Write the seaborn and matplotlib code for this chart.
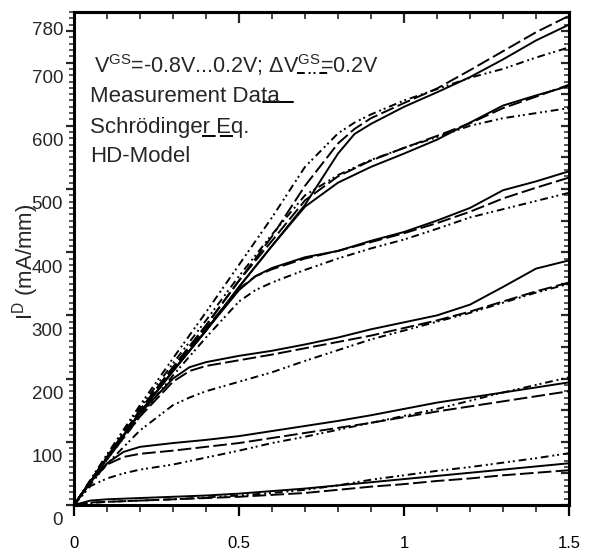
import numpy as np
import pandas as pd
import matplotlib
matplotlib.use('Agg')
import matplotlib.pyplot as plt
import matplotlib.transforms as mtransforms
from matplotlib.ticker import MultipleLocator, FixedLocator
import seaborn as sns

# drain current curves I_D (mA/mm) vs V_DS (V)
models = ["Measurement Data", "Schrödinger Eq.", "HD-Model"]

# VGS = -0.8 V
v_m08 = [0, 0.05, 0.1, 0.2, 0.3, 0.4, 0.5, 0.6, 0.7, 0.8, 0.9, 1.0, 1.1, 1.2, 1.3, 1.4, 1.5]
meas_m08 = [0, 7, 9, 11, 13, 15, 18, 22, 26, 31, 36, 41, 46, 51, 56, 61, 66]
schr_m08 = [0, 4, 5, 7, 9, 11, 13, 16, 19, 24, 29, 33, 38, 42, 47, 51, 55]
hd_m08 = [0, 3, 5, 7, 9, 12, 15, 19, 24, 31, 40, 47, 54, 60, 67, 74, 82]

# VGS = -0.6 V
v_m06 = [0, 0.05, 0.1, 0.15, 0.2, 0.3, 0.4, 0.5, 0.6, 0.7, 0.8, 0.9, 1.0, 1.1, 1.2, 1.3, 1.4, 1.5]
meas_m06 = [0, 36, 66, 84, 92, 98, 103, 109, 117, 125, 133, 142, 152, 162, 170, 178, 186, 194]
schr_m06 = [0, 36, 64, 76, 81, 86, 92, 98, 106, 114, 122, 130, 139, 148, 156, 164, 172, 180]
hd_m06 = [0, 30, 42, 50, 56, 64, 75, 86, 98, 108, 119, 130, 141, 152, 165, 178, 190, 202]

# VGS = -0.4 V
v_m04 = [0, 0.1, 0.2, 0.3, 0.35, 0.4, 0.5, 0.6, 0.7, 0.8, 0.9, 1.0, 1.1, 1.2, 1.3, 1.4, 1.5]
meas_m04 = [0, 74, 145, 200, 218, 226, 236, 244, 254, 265, 278, 289, 300, 317, 345, 374, 387]
schr_m04 = [0, 72, 140, 195, 212, 220, 229, 238, 248, 258, 268, 280, 292, 306, 322, 338, 352]
hd_m04 = [0, 65, 118, 158, 170, 180, 195, 210, 228, 245, 262, 276, 290, 304, 320, 336, 350]

# VGS = -0.2 V
v_m02 = [0, 0.1, 0.2, 0.3, 0.4, 0.5, 0.55, 0.6, 0.7, 0.8, 0.9, 1.0, 1.1, 1.2, 1.3, 1.4, 1.5]
meas_m02 = [0, 74, 146, 212, 276, 340, 362, 375, 392, 402, 418, 432, 450, 470, 498, 512, 528]
schr_m02 = [0, 75, 148, 215, 280, 342, 362, 373, 390, 402, 416, 430, 446, 464, 485, 502, 518]
hd_m02 = [0, 72, 140, 205, 265, 322, 340, 352, 372, 390, 406, 420, 437, 455, 468, 481, 494]

# VGS = 0.0 V
v_p00 = [0, 0.1, 0.2, 0.3, 0.4, 0.5, 0.6, 0.7, 0.8, 0.9, 1.0, 1.1, 1.2, 1.3, 1.4, 1.5]
meas_p00 = [0, 74, 146, 212, 276, 345, 410, 472, 510, 535, 556, 578, 605, 632, 648, 663]
schr_p00 = [0, 76, 150, 218, 284, 355, 418, 482, 520, 545, 565, 584, 604, 628, 646, 665]
hd_p00 = [0, 78, 154, 224, 292, 362, 428, 490, 522, 546, 565, 582, 600, 612, 620, 628]

# VGS = 0.2 V
v_p02 = [0, 0.1, 0.2, 0.3, 0.4, 0.5, 0.6, 0.7, 0.8, 0.85, 0.9, 1.0, 1.1, 1.2, 1.3, 1.4, 1.5]
meas_p02 = [0, 74, 146, 212, 276, 345, 410, 475, 556, 587, 603, 630, 653, 677, 705, 735, 760]
schr_p02 = [0, 76, 150, 218, 284, 355, 425, 505, 572, 595, 612, 636, 659, 688, 718, 748, 774]
hd_p02 = [0, 80, 158, 232, 305, 380, 455, 535, 588, 605, 618, 640, 658, 676, 690, 708, 724]

vgs_levels = [-0.8, -0.6, -0.4, -0.2, 0.0, 0.2]
groups = [
    (v_m08, [meas_m08, schr_m08, hd_m08]),
    (v_m06, [meas_m06, schr_m06, hd_m06]),
    (v_m04, [meas_m04, schr_m04, hd_m04]),
    (v_m02, [meas_m02, schr_m02, hd_m02]),
    (v_p00, [meas_p00, schr_p00, hd_p00]),
    (v_p02, [meas_p02, schr_p02, hd_p02]),
]

ytick_vals = [0, 100, 200, 300, 400, 500, 600, 700, 750]
ytick_text = ['0', '100', '200', '300', '400', '500', '600', '700', '780']

rows = []
for vgs, (v, curves) in zip(vgs_levels, groups):
    for model, vals in zip(models, curves):
        for x, y in zip(v, vals):
            rows.append({"VDS": x, "ID": y, "model": model, "VGS": vgs})
df = pd.DataFrame(rows)

sns.set_style("ticks")
plt.rcParams['font.family'] = ['Liberation Sans', 'DejaVu Sans']
plt.rcParams['mathtext.default'] = 'regular'

dash_map = {
    "Measurement Data": "",
    "Schrödinger Eq.": (7, 2.2),
    "HD-Model": (4, 2, 1, 1.5, 1, 2),
}

fig = plt.figure(figsize=(5.91, 5.51), dpi=100)
ax = fig.add_axes([0.1252, 0.0835, 0.8376, 0.8947])

sns.lineplot(data=df, x="VDS", y="ID", units="VGS", style="model", style_order=models,
             dashes=dash_map, estimator=None, color="black", linewidth=1.4,
             legend=False, ax=ax)

ax.set_xlim(0, 1.5)
ax.set_ylim(0, 780)
ax.set_xlabel("")
ax.set_ylabel("")

for s in ax.spines.values():
    s.set_visible(True)
    s.set_linewidth(2.2)
    s.set_color("black")

ax.xaxis.set_major_locator(FixedLocator([0, 0.5, 1, 1.5]))
ax.xaxis.set_minor_locator(MultipleLocator(0.1))
ax.set_xticklabels(['0', '0.5', '1', '1.5'])
ax.tick_params(axis='x', which='major', direction='out', length=8, width=1.6,
               top=False, pad=14, labelsize=12, colors='black')
ax.tick_params(axis='x', which='minor', direction='out', length=5, width=1.2, top=False)

ax.yaxis.set_major_locator(FixedLocator(ytick_vals))
ax.yaxis.set_minor_locator(MultipleLocator(10))
ax.tick_params(axis='y', which='major', direction='out', length=6, width=1.6,
               right=False, labelleft=False)
ax.tick_params(axis='y', which='minor', direction='out', length=3.5, width=1.1, right=False)

# top / right axes carry inward ticks
top = ax.secondary_xaxis('top')
top.xaxis.set_major_locator(FixedLocator([0.5, 1.0]))
top.xaxis.set_minor_locator(MultipleLocator(0.1))
top.tick_params(which='major', direction='in', length=8, width=1.6, labeltop=False)
top.tick_params(which='minor', direction='in', length=5, width=1.2)
top.spines['top'].set_linewidth(2.2)

right = ax.secondary_yaxis('right')
right.yaxis.set_major_locator(MultipleLocator(50))
right.yaxis.set_minor_locator(MultipleLocator(10))
right.tick_params(which='major', direction='in', length=6, width=1.6, labelright=False)
right.tick_params(which='minor', direction='in', length=3.5, width=1.1)
right.spines['right'].set_linewidth(2.2)

# y tick labels sit a little below their ticks in the original
ylab_tr = mtransforms.blended_transform_factory(ax.transAxes, ax.transData)
for val, lab in zip(ytick_vals, ytick_text):
    shift = 0 if lab == '780' else -16
    tr = ylab_tr + mtransforms.ScaledTranslation(0, shift / 100, fig.dpi_scale_trans)
    ax.text(-0.022, val, lab, transform=tr, ha='right', va='center', fontsize=13.5)

ax.text(-0.097, 0.493, r"I$^{D}$ (mA/mm)", transform=ax.transAxes, rotation=90,
        ha='center', va='center', fontsize=16)

# in-plot legend text with its line samples
ax.text(0.040, 0.892, r"V$^{GS}$=-0.8V...0.2V; $\Delta$V$^{GS}$=0.2V", transform=ax.transAxes,
        ha='left', va='center', fontsize=15.5)
ax.text(0.032, 0.828, "Measurement Data", transform=ax.transAxes, ha='left', va='center', fontsize=16)
ax.text(0.032, 0.765, "Schrödinger Eq.", transform=ax.transAxes, ha='left', va='center', fontsize=16)
ax.text(0.032, 0.706, "HD-Model", transform=ax.transAxes, ha='left', va='center', fontsize=16)

ax.plot([0.382, 0.442], [0.817, 0.817], transform=ax.transAxes, color='black', lw=1.4)
ax.plot([0.259, 0.321], [0.748, 0.748], transform=ax.transAxes, color='black', lw=1.4,
        dashes=dash_map["Schrödinger Eq."])
ax.plot([0.45, 0.513], [0.876, 0.876], transform=ax.transAxes, color='black', lw=1.4,
        dashes=dash_map["HD-Model"])

fig.savefig("out.png", dpi=100)
